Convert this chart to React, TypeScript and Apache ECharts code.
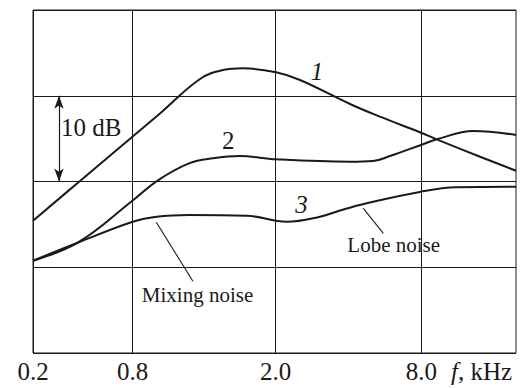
import React, { useEffect, useRef } from "react";
import * as echarts from "echarts";

// x positions are expressed as % of the (non-uniform) frequency axis length
const tickPositions = [0, 20.64, 50.25, 80.39];
const tickLabels = ["0.2", "0.8", "2.0", "8.0"];

const curve1X = [0, 9.73, 20.64, 26.29, 34.58, 39.34, 43.48, 50.31, 55.28, 65.63, 71.84, 80.33, 83.58, 92.55, 100];
const curve1Y = [15.43, 20.06, 25.24, 27.93, 31.95, 33.0, 33.2, 32.73, 31.84, 29.04, 27.56, 25.69, 24.92, 22.89, 21.26];

const curve2X = [0, 9.25, 20.64, 25.94, 32.3, 37.27, 42.86, 50.31, 65.63, 70.39, 73.91, 80.33, 83.58, 91.16, 100];
const curve2Y = [10.76, 12.86, 17.78, 20.17, 22.12, 22.71, 22.97, 22.59, 22.31, 22.39, 22.97, 24.26, 24.92, 25.89, 25.42];

const curve3X = [0, 9.25, 20.64, 25.61, 32.3, 44.24, 52.53, 59.42, 63.56, 69.09, 80.33, 87.72, 100];
const curve3Y = [10.76, 12.86, 15.31, 15.9, 16.09, 16.01, 15.31, 15.89, 16.62, 17.46, 18.81, 19.32, 19.39];

// annotation leader lines / scale arrow in data coordinates
const scaleArrow = { x: 5.38, from: 20, to: 30 };
const mixingLeader = [[25.53, 15.24], [33.11, 8.36]];
const lobeLeader = [[68.39, 16.87], [72.53, 13.96]];

const FONT = "Liberation Serif";
const INK = "#1a1a1a";

const zip = (xs: number[], ys: number[]) => xs.map((x, i) => [x, ys[i]]);

export default function App() {
  const ref = useRef<HTMLDivElement>(null);
  useEffect(() => {
    if (!ref.current) return;
    const chart = echarts.init(ref.current, undefined, { renderer: "svg" });
    const curveStyle = { color: INK, width: 2 };
    const option: any = {
      animation: false,
      grid: { left: 33, right: 9, top: 10, bottom: 35, show: true, borderColor: INK, borderWidth: 1 },
      xAxis: {
        type: "value",
        min: 0,
        max: 100,
        axisLine: { show: false },
        axisTick: { show: false, customValues: tickPositions },
        axisLabel: {
          customValues: tickPositions,
          formatter: (v: number) => {
            const i = tickPositions.findIndex((p) => Math.abs(p - v) < 0.01);
            return i >= 0 ? tickLabels[i] : "";
          },
          fontFamily: FONT,
          fontSize: 25,
          color: INK,
          margin: 6,
        },
        splitLine: { show: true, lineStyle: { color: INK, width: 1 } },
        name: "{i|f}, kHz",
        nameLocation: "end",
        nameGap: -65,
        nameTextStyle: {
          fontFamily: FONT,
          fontSize: 25,
          color: INK,
          verticalAlign: "top",
          padding: [6, 0, 0, 0],
          rich: { i: { fontFamily: FONT, fontSize: 25, fontStyle: "italic", color: INK } },
        },
      },
      yAxis: {
        type: "value",
        min: 0,
        max: 40,
        interval: 10,
        axisLine: { show: false },
        axisTick: { show: false },
        axisLabel: { show: false },
        splitLine: { show: true, lineStyle: { color: INK, width: 1 } },
      },
      series: [
        { type: "line", data: zip(curve1X, curve1Y), smooth: 0.4, showSymbol: false, lineStyle: curveStyle, silent: true },
        { type: "line", data: zip(curve2X, curve2Y), smooth: 0.4, showSymbol: false, lineStyle: curveStyle, silent: true },
        { type: "line", data: zip(curve3X, curve3Y), smooth: 0.4, showSymbol: false, lineStyle: curveStyle, silent: true },
        {
          type: "line",
          data: [],
          silent: true,
          markLine: {
            silent: true,
            animation: false,
            label: { show: false },
            data: [
              [
                { coord: [scaleArrow.x, scaleArrow.from], symbol: "arrow", symbolSize: [7, 13], lineStyle: { color: INK, width: 1.2, type: "solid" } },
                { coord: [scaleArrow.x, scaleArrow.to], symbol: "arrow", symbolSize: [7, 13] },
              ],
              [
                { coord: mixingLeader[0], symbol: "none", lineStyle: { color: INK, width: 1.1, type: "solid" } },
                { coord: mixingLeader[1], symbol: "none" },
              ],
              [
                { coord: lobeLeader[0], symbol: "none", lineStyle: { color: INK, width: 1.1, type: "solid" } },
                { coord: lobeLeader[1], symbol: "none" },
              ],
            ],
          },
        },
      ],
      graphic: [
        { type: "text", x: 61, y: 127.6, style: { text: "10 dB", fontFamily: FONT, fontSize: 25, fill: INK, align: "left", verticalAlign: "middle" } },
        { type: "text", x: 317, y: 71.6, style: { text: "1", fontFamily: FONT, fontSize: 25, fontStyle: "italic", fill: INK, align: "center", verticalAlign: "middle" } },
        { type: "text", x: 228.3, y: 140.9, style: { text: "2", fontFamily: FONT, fontSize: 25, fill: INK, align: "center", verticalAlign: "middle" } },
        { type: "text", x: 301.5, y: 204.9, style: { text: "3", fontFamily: FONT, fontSize: 25, fontStyle: "italic", fill: INK, align: "center", verticalAlign: "middle" } },
        { type: "text", x: 197.5, y: 295.2, style: { text: "Mixing noise", fontFamily: FONT, fontSize: 21, fill: INK, align: "center", verticalAlign: "middle" } },
        { type: "text", x: 393.7, y: 244.6, style: { text: "Lobe noise", fontFamily: FONT, fontSize: 21, fill: INK, align: "center", verticalAlign: "middle" } },
      ],
    };
    chart.setOption(option);
    return () => chart.dispose();
  }, []);
  return <div ref={ref} style={{ width: 525, height: 388, position: "absolute", left: 0, top: 0 }} />;
}
